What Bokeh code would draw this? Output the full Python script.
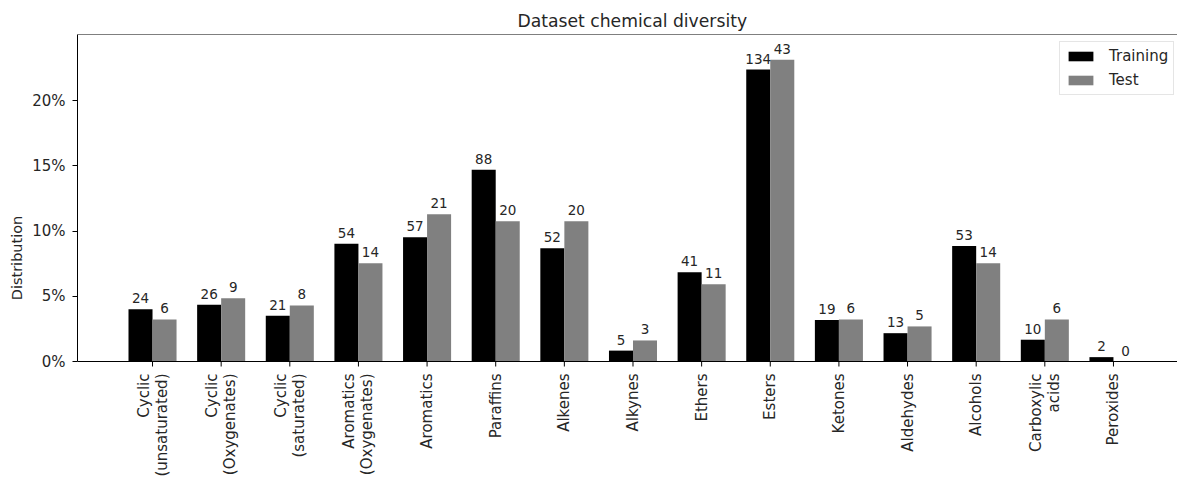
import numpy as np
from bokeh.plotting import figure
from bokeh.models import ColumnDataSource, FixedTicker, NumeralTickFormatter, Span, Range1d, LabelSet
from bokeh.embed import file_html
from bokeh.resources import INLINE
from bokeh.core.properties import value

categories = ["Cyclic\n(unsaturated)", "Cyclic\n(Oxygenates)", "Cyclic\n(saturated)",
              "Aromatics\n(Oxygenates)", "Aromatics", "Paraffins", "Alkenes", "Alkynes",
              "Ethers", "Esters", "Ketones", "Aldehydes", "Alcohols", "Carboxylic\nacids",
              "Peroxides"]
training_counts = [24, 26, 21, 54, 57, 88, 52, 5, 41, 134, 19, 13, 53, 10, 2]
test_counts = [6, 9, 8, 14, 21, 20, 20, 3, 11, 43, 6, 5, 14, 6, 0]
y_ticks = [0.0, 0.05, 0.10, 0.15, 0.20]

FONT = "DejaVu Sans"
TXT = "#262626"
BAR_W = 0.35
Y_MAX = 0.2506
# pixel layout
W, H = 1177, 481
LEFT, TOP = 77, 34
AXIS_Y = 361                      # pixel row of the 0% baseline
Y_MIN = -(H - AXIS_Y) * Y_MAX / (AXIS_Y - TOP)

n = len(categories)
idx = np.arange(n)
train_share = np.array(training_counts) / sum(training_counts)
test_share = np.array(test_counts) / sum(test_counts)

train_src = ColumnDataSource(dict(x=idx - BAR_W / 2, top=train_share,
                                  label=[str(v) for v in training_counts]))
test_src = ColumnDataSource(dict(x=idx + BAR_W / 2, top=test_share,
                                 label=[str(v) for v in test_counts]))

# category label lines, drawn rotated so that multi-line labels align like the reference
lx, lt, loff = [], [], []
for i, c in enumerate(categories):
    parts = c.split("\n")
    k = len(parts)
    for j, part in enumerate(parts):
        lx.append(float(i))
        lt.append(part)
        loff.append((j - (k - 1) / 2) * 18.0)
tick_src = ColumnDataSource(dict(x=lx, y=[0.0] * len(lx), text=lt, xo=loff))

p = figure(width=W, height=H, output_backend="svg", toolbar_location=None,
           x_axis_location=None,
           x_range=Range1d(-1.093, 14.933), y_range=Range1d(Y_MIN, Y_MAX),
           min_border_left=LEFT, min_border_right=0, min_border_top=TOP, min_border_bottom=0,
           title="Dataset chemical diversity")
p.outline_line_color = None
p.grid.visible = False
p.background_fill_color = "white"
p.border_fill_color = "white"

p.title.align = "left"
p.title.offset = 440
p.title.standoff = 8
p.title.text_font = FONT
p.title.text_font_size = "17.2px"
p.title.text_font_style = "normal"
p.title.text_color = TXT

p.vbar(x="x", top="top", width=BAR_W, bottom=0, source=train_src,
       fill_color="black", line_color=None, legend_label="Training")
p.vbar(x="x", top="top", width=BAR_W, bottom=0, source=test_src,
       fill_color="#808080", line_color=None, legend_label="Test")

for src in (train_src, test_src):
    p.add_layout(LabelSet(x="x", y="top", text="label", source=src, text_align="center",
                          text_baseline="alphabetic", y_offset=6, text_font=value(FONT),
                          text_font_size="13.5px", text_color=TXT))

# x axis: baseline, outward ticks and rotated category labels
p.add_layout(Span(location=0, dimension="width", line_color="black", line_width=1))
p.ray(x=idx, y=0, length=5, length_units="screen", angle=-np.pi / 2,
      line_color="black", line_width=1)
p.add_layout(LabelSet(x="x", y="y", text="text", source=tick_src, angle=np.pi / 2,
                      text_align="right", text_baseline="middle", x_offset="xo",
                      y_offset=-12, text_font=value(FONT), text_font_size="15px",
                      text_color=TXT))

# top spine
p.add_layout(Span(location=Y_MAX, dimension="width", line_color="black", line_width=1))

ya = p.yaxis[0]
ya.bounds = (0, Y_MAX)
ya.ticker = FixedTicker(ticks=y_ticks)
ya.formatter = NumeralTickFormatter(format="0%")
ya.minor_tick_line_color = None
ya.major_tick_out = 5
ya.major_tick_in = 0
ya.major_label_standoff = 7
ya.major_label_text_font = FONT
ya.major_label_text_font_size = "15px"
ya.major_label_text_color = TXT
ya.axis_label = "Distribution"
ya.axis_label_text_font = FONT
ya.axis_label_text_font_size = "14.5px"
ya.axis_label_text_font_style = "normal"
ya.axis_label_text_color = TXT
ya.axis_label_standoff = 4
ya.axis_line_color = "black"
ya.major_tick_line_color = "black"

lg = p.legend[0]
lg.location = (982, H - 95)
lg.label_text_font = FONT
lg.label_text_font_size = "15px"
lg.label_text_color = TXT
lg.glyph_width = 31
lg.glyph_height = 12
lg.label_height = 18
lg.label_standoff = 13
lg.spacing = 6
lg.padding = 5
lg.margin = 0
lg.border_line_color = "#cccccc"
lg.border_line_width = 1
lg.background_fill_alpha = 0.8

open("out.html", "w").write(file_html(p, INLINE))
